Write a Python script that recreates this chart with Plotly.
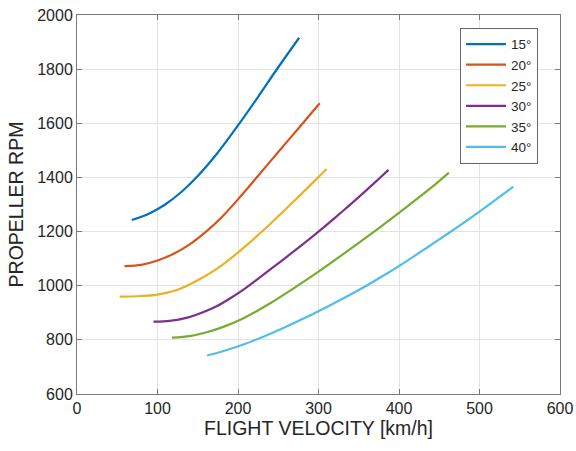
import plotly.graph_objects as go

angles = ["15°", "20°", "25°", "30°", "35°", "40°"]
colors = ["#0072BD", "#D95319", "#EDB120", "#7E2F8E", "#77AC30", "#4DBEEE"]

v15 = [68, 90, 110, 130, 150, 175, 200, 225, 250, 276]
r15 = [1243, 1267, 1301, 1347, 1405, 1492, 1592, 1698, 1807, 1916]

v20 = [59, 80, 100, 120, 140, 160, 180, 200, 225, 250, 275, 301.5]
r20 = [1072, 1077, 1093, 1118, 1153, 1199, 1254, 1319, 1406, 1494, 1581, 1674]

v25 = [53, 75, 100, 125, 150, 175, 205, 240, 270, 300, 310]
r25 = [960, 961, 967, 985, 1020, 1065, 1135, 1228, 1314, 1401, 1431]

v30 = [95, 115, 137, 155, 174, 190, 205, 230, 255, 280, 300, 320, 338, 360, 375, 387]
r30 = [867, 870, 882, 900, 925, 953, 982, 1037, 1094, 1152, 1200, 1250, 1296, 1354, 1395, 1428]

v35 = [118, 140, 160, 180, 205, 240, 270, 300, 335, 370, 410, 440, 462]
r35 = [808, 814, 827, 846, 877, 935, 992, 1052, 1126, 1202, 1292, 1362, 1418]

v40 = [161.5, 180, 205, 230, 255, 280, 300, 330, 360, 385, 410, 435, 460, 500, 542]
r40 = [742, 757, 781, 810, 842, 877, 906, 952, 1001, 1045, 1092, 1141, 1191, 1274, 1366]

velocities = [v15, v20, v25, v30, v35, v40]
rpms = [r15, r20, r25, r30, r35, r40]

x_ticks = [0, 100, 200, 300, 400, 500, 600]
y_ticks = [600, 800, 1000, 1200, 1400, 1600, 1800, 2000]

FONT = "Liberation Sans, Arial, sans-serif"

fig = go.Figure()
for name, col, vx, ry in zip(angles, colors, velocities, rpms):
    fig.add_trace(go.Scatter(
        x=vx, y=ry, mode="lines", name=name,
        line=dict(color=col, width=2.2, shape="spline", smoothing=0.8),
    ))

axis_common = dict(
    showgrid=True, gridcolor="#e3e3e3", gridwidth=1,
    showline=True, linecolor="#7a7a7a", linewidth=1, mirror="ticks",
    ticks="inside", ticklen=5, tickcolor="#7a7a7a",
    tickfont=dict(family=FONT, size=16, color="#262626"),
    zeroline=False,
)

fig.update_layout(
    width=576, height=451,
    margin=dict(l=77, r=16, t=15, b=57, autoexpand=False),
    paper_bgcolor="white", plot_bgcolor="white",
    font=dict(family=FONT, color="#262626"),
    xaxis=dict(range=[0, 600], tickvals=x_ticks,
               title=dict(text="FLIGHT VELOCITY [km/h]", font=dict(family=FONT, size=19.5, color="#262626"), standoff=4),
               **axis_common),
    yaxis=dict(range=[600, 2000], tickvals=y_ticks,
               title=dict(text="PROPELLER RPM", font=dict(family=FONT, size=19.5, color="#262626"), standoff=8),
               **axis_common),
    legend=dict(x=0.793, y=0.966, xanchor="left", yanchor="top",
                bgcolor="white", bordercolor="#666666", borderwidth=1,
                font=dict(family=FONT, size=13.5, color="#262626"),
                tracegroupgap=0, itemwidth=40),
    showlegend=True,
)

fig.write_html("out.html")
